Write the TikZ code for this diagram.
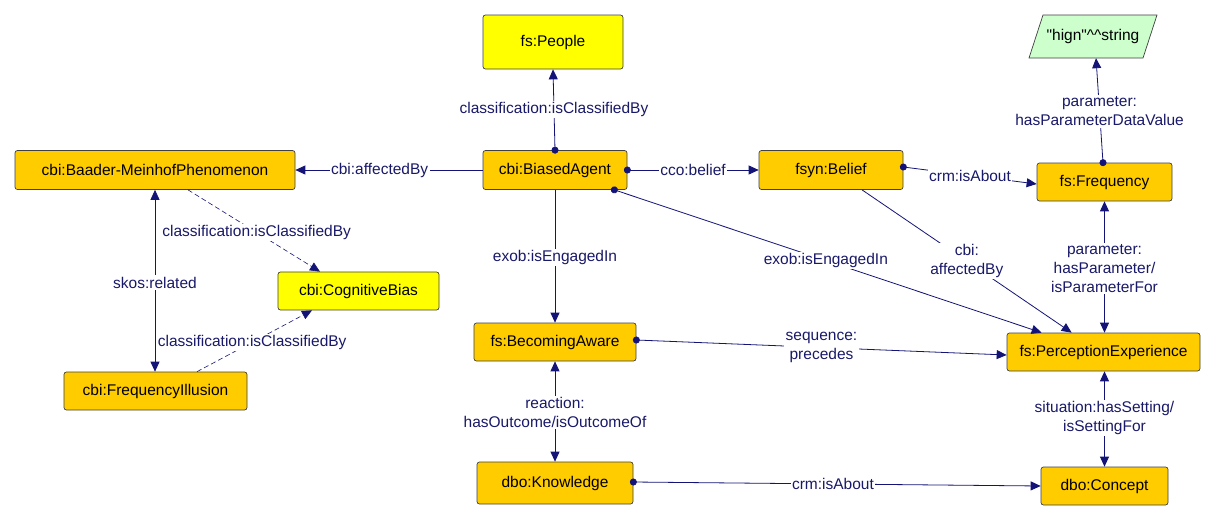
\documentclass[tikz,border=0pt]{standalone}
\usepackage{fontspec}
\setmainfont{Liberation Sans}[Ligatures=TeXOff]
\usetikzlibrary{arrows.meta}
\definecolor{gold}{RGB}{255,204,0}
\definecolor{yel}{RGB}{255,255,0}
\definecolor{mint}{RGB}{204,255,204}
\definecolor{navy}{RGB}{20,20,120}
\definecolor{lblc}{RGB}{25,25,105}
\begin{document}
\begin{tikzpicture}[x=1pt,y=-1pt,
  every node/.style={font=\fontsize{15.5}{19}\selectfont},
  box/.style={draw=black!75,line width=0.7pt,fill=gold,rounded corners=2.5pt,inner sep=0pt,text=black},
  ybox/.style={box,fill=yel},
  lbl/.style={fill=white,text=lblc,inner sep=1.5pt,align=center},
  conn/.style={draw=navy,line width=0.8pt,-{Triangle[length=10pt,width=9pt]}},
  dconn/.style={conn,{Circle[length=7pt]}-{Triangle[length=10pt,width=9pt]},shorten <=-3.5pt},
  biconn/.style={draw=navy,line width=0.8pt,{Triangle[length=10pt,width=9pt]}-{Triangle[length=10pt,width=9pt]}},
  dashconn/.style={conn,line width=0.6pt,dash pattern=on 5pt off 3pt}]
\useasboundingbox (0,0) rectangle (1216,520);
\fill[white] (0,0) rectangle (1216,520);
% nodes
\node[ybox,minimum width=140pt,minimum height=54pt] (people) at (553,42) {fs:People};
\node[box,minimum width=144pt,minimum height=39pt] (agent) at (555,170) {cbi:BiasedAgent};
\node[box,minimum width=144pt,minimum height=39pt] (belief) at (831,170) {fsyn:Belief};
\node[box,minimum width=280pt,minimum height=39pt] (baader) at (155,170) {cbi:Baader-MeinhofPhenomenon};
\node[ybox,minimum width=161pt,minimum height=38pt] (cogbias) at (358.5,291) {cbi:CognitiveBias};
\node[box,minimum width=183pt,minimum height=38pt] (freqill) at (155.5,391) {cbi:FrequencyIllusion};
\node[box,minimum width=135pt,minimum height=38pt] (freq) at (1104.5,182) {fs:Frequency};
\node[box,minimum width=193pt,minimum height=38pt] (perc) at (1103.5,352) {fs:PerceptionExperience};
\node[box,minimum width=127pt,minimum height=38pt] (concept) at (1104.5,486) {dbo:Concept};
\node[box,minimum width=162pt,minimum height=38pt] (aware) at (555,342) {fs:BecomingAware};
\node[box,minimum width=156pt,minimum height=42pt] (knowledge) at (555,483) {dbo:Knowledge};
\draw[draw=black!75,line width=0.7pt,fill=mint] (1043,15) -- (1157,15) -- (1143,58) -- (1029,58) -- cycle;
\node[inner sep=0pt,minimum width=114pt,minimum height=43pt] (hign) at (1093,36.5) {"hign"\textasciicircum\textasciicircum string};
% edges
\draw[dconn] (agent.north) -- node[lbl,pos=0.5]{classification:isClassifiedBy} (people.south);
\draw[conn] (agent.west) -- node[lbl,pos=0.55]{cbi:affectedBy} (baader.east);
\draw[dconn] (agent.east) -- node[lbl,pos=0.5]{cco:belief} (belief.west);
\draw[conn] (agent.south) -- node[lbl,pos=0.51]{exob:isEngagedIn} (aware.north);
\draw[dconn] ([xshift=-13pt]agent.south east) -- node[lbl,pos=0.495]{exob:isEngagedIn} ([xshift=35pt]perc.north west);
\draw[dconn] ([yshift=3pt]belief.east) -- node[lbl,pos=0.5]{crm:isAbout} ([yshift=-2pt]freq.west);
\draw[conn] ([xshift=31pt]belief.south) -- node[lbl,pos=0.5]{cbi:\\affectedBy} ([xshift=65pt]perc.north west);
\draw[dconn] ([xshift=-1.5pt]freq.north) -- node[lbl,pos=0.49]{parameter:\\hasParameterDataValue} ([xshift=3pt]hign.south);
\draw[biconn] (freq.south) -- node[lbl,pos=0.51]{parameter:\\hasParameter/\\isParameterFor} (freq.south |- perc.north);
\draw[dconn] ([yshift=2pt]aware.east) -- node[lbl,pos=0.5]{sequence:\\precedes} ([yshift=-3pt]perc.west);
\draw[biconn] (aware.south) -- node[lbl,pos=0.51]{reaction:\\hasOutcome/isOutcomeOf} (knowledge.north);
\draw[dconn] ([yshift=1pt]knowledge.east) -- node[lbl,pos=0.49]{crm:isAbout} (concept.west);
\draw[biconn] (perc.south -| concept.north) -- node[lbl,pos=0.49]{situation:hasSetting/\\isSettingFor} (concept.north);
\draw[biconn] (baader.south) -- node[lbl,pos=0.51]{skos:related} (baader.south |- freqill.north);
\draw[dashconn] ([xshift=33pt]baader.south) -- node[lbl,pos=0.52]{classification:isClassifiedBy} ([xshift=-38.5pt]cogbias.north);
\draw[dashconn] ([xshift=41.5pt]freqill.north) -- node[lbl,pos=0.48]{classification:isClassifiedBy} ([xshift=-46.5pt]cogbias.south);
\end{tikzpicture}
\end{document}
